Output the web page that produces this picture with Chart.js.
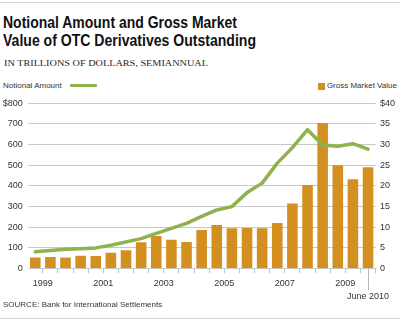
<!DOCTYPE html>
<html>
<head>
<meta charset="utf-8">
<script src="https://cdn.jsdelivr.net/npm/chart.js@4/dist/chart.umd.min.js"></script>
<style>
    body { margin: 0; background: #fff; }
    .wrap { position: relative; width: 400px; height: 323px; overflow: hidden; font-family: 'Liberation Sans', Arial, sans-serif; color: #333; }
    canvas { position: absolute; left: 0; top: 0; }
    .rule { position: absolute; left: 0; width: 400px; height: 1px; background: #d4d4d4; }
    .fit { position: absolute; white-space: nowrap; transform-origin: 0 0; }
    .title { left: 3px; font-family: 'Liberation Sans', Arial, sans-serif; font-weight: bold; font-size: 16px; line-height: 18px; color: #111; }
    .subtitle { left: 4px; top: 58px; font-family: 'Liberation Serif', serif; font-size: 9px; line-height: 10px; color: #222; }
    .small { position: absolute; font-size: 8px; line-height: 10px; color: #333; white-space: nowrap; }
    .swatch-line { position: absolute; left: 70px; top: 84px; width: 27px; height: 3px; background: #8db24e; border-radius: 1px; }
    .swatch-box { position: absolute; left: 318px; top: 83px; width: 7px; height: 7px; background: #d39020; }
</style>
</head>
<body>
<div class="wrap">
    <div class="rule" style="top: 2px;"></div>
    <div class="fit title" style="top: 13.6px;" data-w="234">Notional Amount and Gross Market</div>
    <div class="fit title" style="top: 31.9px;" data-w="253">Value of OTC Derivatives Outstanding</div>
    <div class="fit subtitle" data-w="204">IN TRILLIONS OF DOLLARS, SEMIANNUAL</div>
    <div class="small" style="left: 3px; top: 81.2px;">Notional Amount</div>
    <div class="swatch-line"></div>
    <div class="swatch-box"></div>
    <div class="small" style="right: 3px; top: 81.2px;">Gross Market Value</div>
    <canvas id="otcChart" width="400" height="323"></canvas>
    <div class="small" style="left: 3px; top: 299.7px;">SOURCE: Bank for International Settlements</div>
    <div class="rule" style="top: 318px;"></div>
</div>
<script>
const periods = [
    'Jun 1999', 'Dec 1999', 'Jun 2000', 'Dec 2000', 'Jun 2001', 'Dec 2001',
    'Jun 2002', 'Dec 2002', 'Jun 2003', 'Dec 2003', 'Jun 2004', 'Dec 2004',
    'Jun 2005', 'Dec 2005', 'Jun 2006', 'Dec 2006', 'Jun 2007', 'Dec 2007',
    'Jun 2008', 'Dec 2008', 'Jun 2009', 'Dec 2009', 'Jun 2010'
];

// notional amount, trillions (left axis)
const notional = [80, 86, 92, 95, 99, 112, 128, 144, 169, 194, 218, 252,
    283, 299, 367, 413, 510, 585, 672, 598, 592, 604, 578];

// gross market value, trillions (right axis)
const gross = [2.6, 2.75, 2.6, 3.05, 3.0, 3.8, 4.4, 6.3, 7.85, 6.9, 6.4, 9.3,
    10.5, 9.7, 9.8, 9.7, 11.0, 15.7, 20.2, 35.2, 25.0, 21.6, 24.5];

const yearLabels = ['1999', '2001', '2003', '2005', '2007', '2009'];
const lastLabel = 'June 2010';

const green = '#8db24e';
const orange = '#d39020';
const gridColor = '#c8c8c8';
const tickFont = { family: "'Liberation Sans', Arial, sans-serif", size: 9, lineHeight: 1.4 };

// squeeze the heading lines to the condensed widths of the original
document.querySelectorAll('.fit').forEach(el => {
    const w = el.getBoundingClientRect().width;
    el.style.transform = 'scaleX(' + (parseFloat(el.dataset.w) / w) + ')';
});

// year labels sit between the June and December bars of each year
const yearTicks = yearLabels.map(y => ({ value: periods.indexOf('Jun ' + y) + 0.5, label: y }));
yearTicks.push({ value: periods.length - 1, label: ['', lastLabel] });

const juneLine = {
    id: 'juneLine',
    afterDraw(chart) {
        const ctx = chart.ctx;
        const x = Math.round(chart.scales.x.getPixelForValue(periods.length - 1)) + 0.5;
        const y = chart.chartArea.bottom;
        ctx.save();
        ctx.strokeStyle = '#b8b8b8';
        ctx.lineWidth = 1;
        ctx.beginPath();
        ctx.moveTo(x, y);
        ctx.lineTo(x, y + 22);
        ctx.stroke();
        ctx.restore();
    }
};

const ctx = document.getElementById('otcChart').getContext('2d');
const chart = new Chart(ctx, {
    data: {
        labels: periods,
        datasets: [{
            type: 'line',
            label: 'Notional Amount',
            data: notional,
            yAxisID: 'y',
            borderColor: green,
            borderWidth: 3.5,
            pointRadius: 0,
            tension: 0,
            borderJoinStyle: 'round',
            borderCapStyle: 'round'
        }, {
            type: 'bar',
            label: 'Gross Market Value',
            data: gross,
            yAxisID: 'y1',
            backgroundColor: orange,
            borderWidth: 0,
            barPercentage: 0.7,
            categoryPercentage: 1
        }]
    },
    options: {
        responsive: false,
        devicePixelRatio: 1,
        animation: false,
        layout: { padding: { left: 0, right: 0, top: 103.3, bottom: 19.7 } },
        plugins: { legend: { display: false }, tooltip: { enabled: false } },
        scales: {
            x: {
                type: 'category',
                offset: true,
                weight: 0,
                ticks: { display: false },
                grid: {
                    offset: true,
                    drawOnChartArea: false,
                    drawTicks: true,
                    tickLength: 5,
                    tickColor: c => (c.index === 0 || c.index >= periods.length) ? 'rgba(0,0,0,0)' : '#c4c4c4'
                },
                border: { display: false },
                afterFit: s => { s.height = 5; }
            },
            x2: {
                type: 'linear',
                position: 'bottom',
                weight: 1,
                min: -0.5,
                max: periods.length - 0.5,
                grid: { display: false, drawTicks: false },
                border: { display: false },
                afterBuildTicks: s => { s.ticks = yearTicks.map(t => ({ value: t.value })); },
                ticks: {
                    autoSkip: false,
                    maxRotation: 0,
                    padding: 4.1,
                    color: '#333',
                    font: tickFont,
                    callback: (v, i) => yearTicks[i].label
                },
                afterFit: s => { s.height = 30; }
            },
            y: {
                position: 'left',
                min: 0,
                max: 800,
                ticks: {
                    stepSize: 100,
                    padding: 5,
                    color: '#333',
                    font: tickFont,
                    callback: v => v === 800 ? '$800' : v
                },
                grid: { color: gridColor, drawTicks: false },
                border: { display: false },
                afterFit: s => { s.width = 27.7; }
            },
            y1: {
                position: 'right',
                min: 0,
                max: 40,
                ticks: {
                    stepSize: 5,
                    padding: 4.4,
                    color: '#333',
                    font: tickFont,
                    callback: v => v === 40 ? '$40' : v
                },
                grid: { display: false, drawTicks: false },
                border: { display: false },
                afterFit: s => { s.width = 24.4; }
            }
        }
    },
    plugins: [juneLine]
});
</script>
</body>
</html>
